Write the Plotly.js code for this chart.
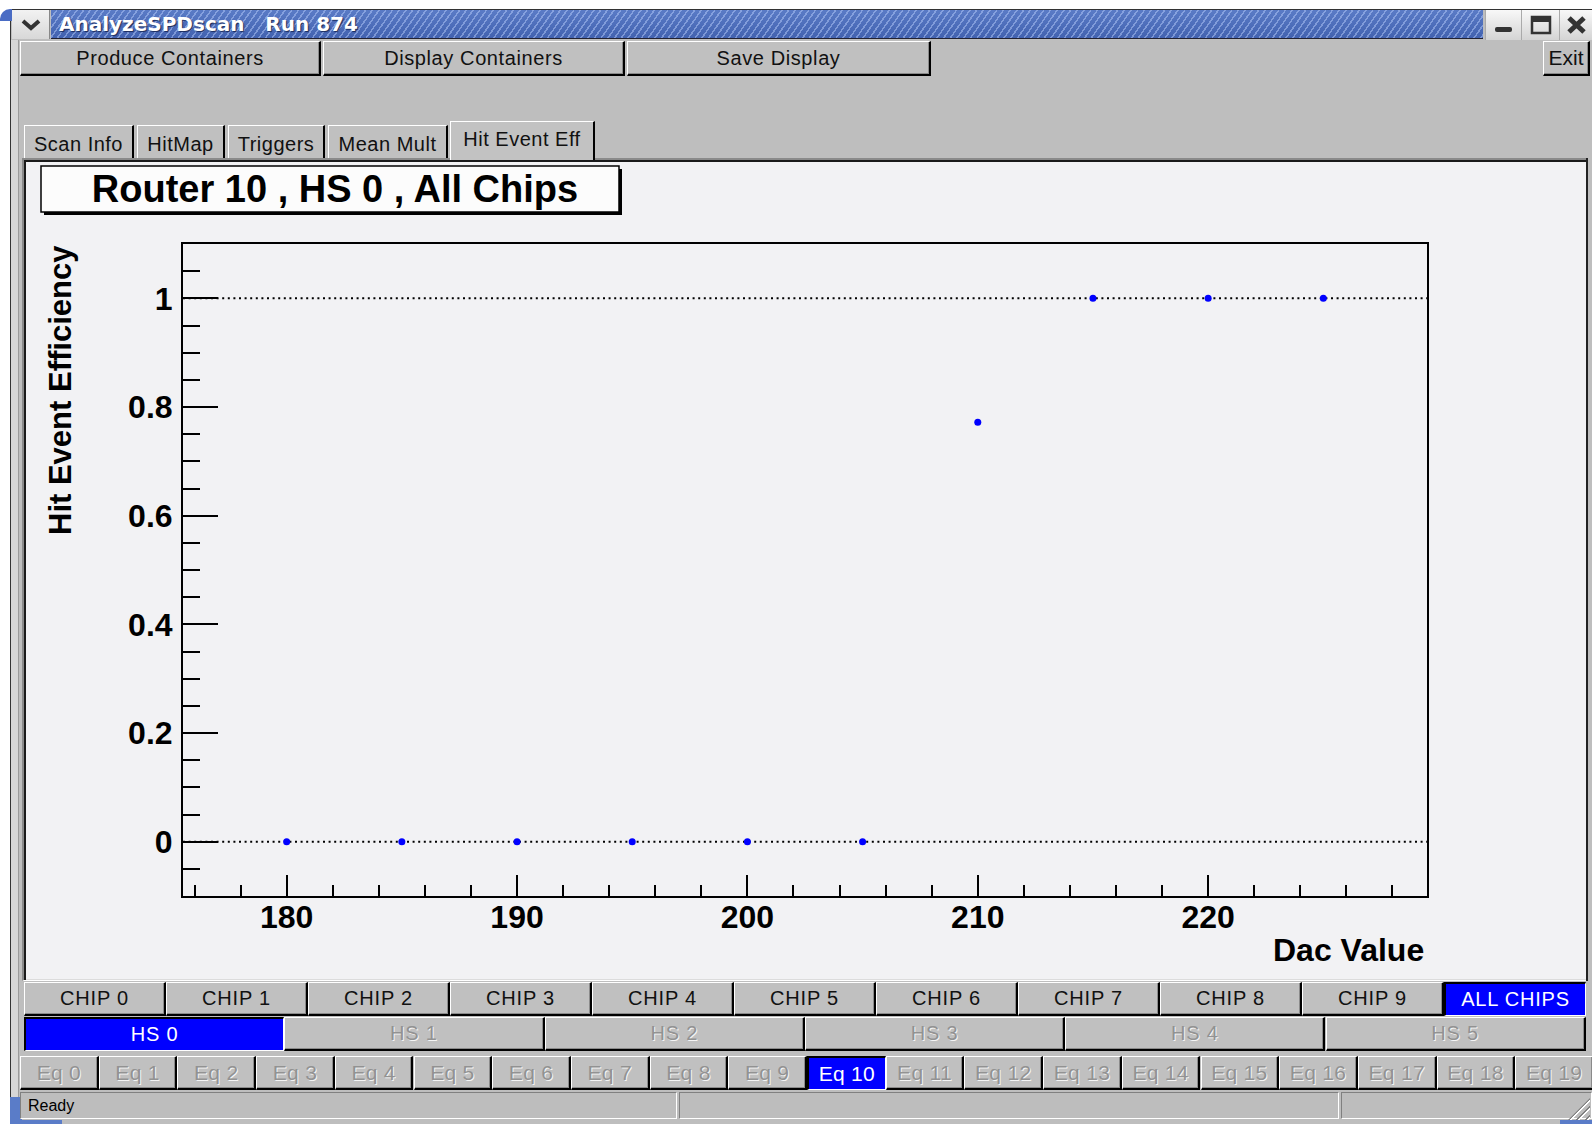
<!DOCTYPE html>
<html><head><meta charset="utf-8">
<script src="https://cdn.plot.ly/plotly-3.0.1.min.js"></script>
<style>
body{margin:0;width:1592px;height:1124px;background:#fff;overflow:hidden;position:relative;font-family:'Liberation Sans',Arial,sans-serif;}
.a{position:absolute;box-sizing:border-box;}
.btn{position:absolute;box-sizing:border-box;background:#c0c0c0;border-top:1px solid #fff;border-left:1px solid #fff;border-right:2px solid #000;border-bottom:2px solid #000;box-shadow:inset -1px -1px 0 #8a8a8a;display:flex;align-items:center;justify-content:center;font-size:20px;letter-spacing:0.8px;color:#111;white-space:pre;}
.dis{color:#929292;text-shadow:1px 1px 0 #f4f4f4;}
.sel{background:#0000ff;color:#fff;border-top:2px solid #000;border-left:2px solid #000;border-right:1px solid #fff;border-bottom:1px solid #fff;box-shadow:none;}
.tab{position:absolute;box-sizing:border-box;background:#c0c0c0;border-top:1px solid #fff;border-left:1px solid #fff;border-right:2px solid #000;display:flex;align-items:center;justify-content:center;font-size:20px;letter-spacing:0.5px;color:#111;}
.sunk{position:absolute;box-sizing:border-box;background:#bdbdbd;border-top:1px solid #808080;border-left:1px solid #808080;border-right:1px solid #fff;border-bottom:1px solid #fff;}
</style></head>
<body>
<div id="gui"></div>
<div id="plot" style="position:absolute;left:0;top:0;width:1592px;height:1124px;z-index:5;"></div>
<script>
// ---------- chart data ----------
const dacValues = [180, 185, 190, 195, 200, 205, 210, 215, 220, 225];
const hitEventEff = [0, 0, 0, 0, 0, 0, 0.772, 1, 1, 1];
const referenceLevels = [0, 1];
const xRange = [175.5, 229.5];
const yRange = [-0.1, 1.1];
const chartTitle = 'Router 10 , HS 0 , All Chips';
const xTitle = 'Dac Value';
const yTitle = 'Hit Event Efficiency';

// ---------- GUI labels ----------
const windowTitle = 'AnalyzeSPDscan   Run 874';
const menuLabels = ['Produce Containers', 'Display Containers', 'Save Display'];
const tabLabels = ['Scan Info', 'HitMap', 'Triggers', 'Mean Mult', 'Hit Event Eff'];
const chipLabels = ['CHIP 0','CHIP 1','CHIP 2','CHIP 3','CHIP 4','CHIP 5','CHIP 6','CHIP 7','CHIP 8','CHIP 9','ALL CHIPS'];
const hsLabels = ['HS 0','HS 1','HS 2','HS 3','HS 4','HS 5'];
const eqLabels = ['Eq 0','Eq 1','Eq 2','Eq 3','Eq 4','Eq 5','Eq 6','Eq 7','Eq 8','Eq 9','Eq 10','Eq 11','Eq 12','Eq 13','Eq 14','Eq 15','Eq 16','Eq 17','Eq 18','Eq 19'];
const statusText = 'Ready';

// ---------- build GUI chrome ----------
const gui = document.getElementById('gui');
function el(cls, x, y, w, h, text, extra) {
  const d = document.createElement('div');
  d.className = cls;
  d.style.left = x + 'px'; d.style.top = y + 'px';
  d.style.width = w + 'px'; d.style.height = h + 'px';
  if (text !== undefined && text !== null) d.textContent = text;
  if (extra) Object.assign(d.style, extra);
  gui.appendChild(d);
  return d;
}
// window body
el('a', 10, 9, 1582, 1115, null, {background:'#bebebe', borderLeft:'1px solid #333', borderTop:'1px solid #333'});
el('a', 11, 40, 8, 1084, null, {background:'#d6d6d6', borderRight:'1px solid #9a9a9a'});
el('a', 0, 9, 12, 12, null, {background:'#4a6cc4', borderTopLeftRadius:'10px'});
el('a', 10, 1097, 12, 27, null, {background:'#5a7cc8'});
el('a', 22, 1120, 40, 4, null, {background:'#5a7cc8'});
el('a', 1560, 1120, 32, 4, null, {background:'#5a7cc8'});
// title bar
const arrow = el('a', 12, 10, 38, 29, null, {background:'linear-gradient(#f2f2f2,#d8d8d8)', borderRight:'1px solid #888'});
arrow.innerHTML = '<svg width="38" height="29"><polyline points="11,11 19,18 27,11" fill="none" stroke="#333" stroke-width="4"/></svg>';
el('a', 51, 10, 1432, 29, null, {
  background:'repeating-linear-gradient(125deg, rgba(255,255,255,0) 0px, rgba(255,255,255,0) 4px, rgba(190,210,255,0.45) 4px, rgba(190,210,255,0.45) 5.5px), linear-gradient(#5a7bc6,#4262b0)',
  borderBottom:'1px solid #223'});
el('a', 59, 10, 600, 29, windowTitle, {color:'#fff', fontFamily:"'DejaVu Sans',sans-serif", fontWeight:'bold', fontSize:'20px', lineHeight:'29px', whiteSpace:'pre', textShadow:'1px 1px 1px #1a2a5a'});
const wmBox = (x, w, svg) => { const d = el('a', x, 10, w, 30, null, {background:'linear-gradient(#f8f8f8,#d4d4d4)', borderLeft:'1px solid #aaa'}); d.innerHTML = svg; };
wmBox(1485, 36, '<svg width="36" height="30"><rect x="9" y="17" width="17" height="5" rx="2" fill="#333"/></svg>');
wmBox(1521, 38, '<svg width="38" height="30"><rect x="10" y="7" width="18" height="16" fill="none" stroke="#333" stroke-width="2.5"/><rect x="10" y="7" width="18" height="5" fill="#333"/></svg>');
wmBox(1559, 33, '<svg width="33" height="30"><path d="M9 8 L24 22 M24 8 L9 22" stroke="#333" stroke-width="5"/></svg>');
// menu buttons
const menuPos = [[20, 301], [323, 302], [627, 304]];
menuLabels.forEach((t, i) => el('btn', menuPos[i][0], 41, menuPos[i][1], 35, t, {letterSpacing:'0.6px'}));
el('btn', 1543, 41, 47, 35, 'Exit', {letterSpacing:'0px', fontSize:'21px'});
// tabs
const tabPos = [[24, 110], [137, 88], [228, 97], [328, 120]];
tabPos.forEach((p, i) => el('tab', p[0], 125, p[1], 34, tabLabels[i], {paddingTop:'4px'}));
el('tab', 450, 121, 145, 39, tabLabels[4], {alignItems:'flex-start', paddingTop:'6px', zIndex:2, background:'#c2c2c2'});
// canvas frame
el('a', 22, 158, 1566, 823, null, {background:'#f2f2f4', borderTop:'2px solid #8a8a8a', borderLeft:'2px solid #8a8a8a', borderRight:'1px solid #fff', borderBottom:'1px solid #fff', boxShadow:'inset 2px 2px 0 #1a1a1a, inset -1px -1px 0 #dcdcdc'});
el('a', 1586, 158, 6, 823, null, {background:'#bebebe', borderLeft:'2px solid #222'});
// chip row
chipLabels.forEach((t, i) => {
  const last = i === chipLabels.length - 1;
  el('btn' + (last ? ' sel' : ''), 24 + i * 142, 982, 142, 34, t);
});
// HS row
hsLabels.forEach((t, i) => el('btn ' + (i === 0 ? 'sel' : 'dis'), 24 + i * 260.3, 1017, 260.3, 34, t));
// Eq row
eqLabels.forEach((t, i) => el('btn ' + (i === 10 ? 'sel' : 'dis'), 20 + i * 78.7, 1056, 78.7, 34, t, {letterSpacing:'0.3px', fontSize:'21px'}));
// status bar
el('sunk', 20, 1092, 657, 27, statusText, {fontSize:'16px', paddingLeft:'7px', lineHeight:'25px', color:'#000'});
el('sunk', 679, 1092, 660, 27);
el('sunk', 1341, 1092, 251, 27);
el('a', 1568, 1098, 22, 22, null, {background:'repeating-linear-gradient(135deg, transparent 0 3px, #808080 3px 4.5px, #fff 4.5px 6px)', clipPath:'polygon(100% 0,100% 100%,0 100%)'});

// ---------- Plotly chart ----------
const W = 1592, H = 1124;
const M = {l: 183, r: 165, t: 244, b: 228};
const PW = W - M.l - M.r, PH = H - M.t - M.b;
const px = x => (x - M.l) / PW;            // page px -> paper x
const py = y => (H - M.b - y) / PH;        // page px -> paper y
const FONT = "'Liberation Sans', Arial, Helvetica, sans-serif";

const traces = [{
  type: 'scatter', mode: 'markers',
  x: dacValues, y: hitEventEff,
  marker: {color: '#0000ff', size: 7},
  cliponaxis: false, hoverinfo: 'x+y', showlegend: false
}];

const shapes = referenceLevels.map(v => ({
  type: 'line', xref: 'paper', yref: 'y', x0: 0, x1: 1, y0: v, y1: v,
  line: {color: '#000', width: 2, dash: '2px,3.6px'}, layer: 'below'
}));
// title box: shadow + white box
shapes.push({type:'rect', xref:'paper', yref:'paper', x0: px(44), x1: px(622), y0: py(215), y1: py(169), fillcolor:'#000', line:{width:0}, layer:'above'});
shapes.push({type:'rect', xref:'paper', yref:'paper', x0: px(41), x1: px(619), y0: py(212), y1: py(166), fillcolor:'#fcfcfc', line:{color:'#000', width:1.5}, layer:'above'});

const layout = {
  width: W, height: H,
  margin: {l: M.l, r: M.r, t: M.t, b: M.b, pad: 0},
  paper_bgcolor: 'rgba(0,0,0,0)', plot_bgcolor: 'rgba(0,0,0,0)',
  showlegend: false,
  title: {text: chartTitle, xref: 'container', yref: 'container', x: 335 / W, y: 1 - 189 / H,
          xanchor: 'center', yanchor: 'middle', font: {family: FONT, size: 38, weight: 'bold', color: '#000'}},
  xaxis: {
    range: xRange, tickmode: 'linear', tick0: 180, dtick: 10,
    ticks: 'inside', ticklen: 21, tickwidth: 2, tickcolor: '#000',
    minor: {dtick: 2, ticks: 'inside', ticklen: 11, tickwidth: 2, tickcolor: '#000', showgrid: false},
    showline: true, linewidth: 2, linecolor: '#000', mirror: true,
    showgrid: false, zeroline: false, ticklabelstandoff: -8,
    tickfont: {family: FONT, size: 32, weight: 'bold', color: '#000'}
  },
  yaxis: {
    range: yRange, tickmode: 'linear', tick0: 0, dtick: 0.2,
    ticks: 'inside', ticklen: 35, tickwidth: 2, tickcolor: '#000',
    minor: {dtick: 0.05, ticks: 'inside', ticklen: 17, tickwidth: 2, tickcolor: '#000', showgrid: false},
    showline: true, linewidth: 2, linecolor: '#000', mirror: true,
    showgrid: false, zeroline: false, ticklabelstandoff: 2,
    tickfont: {family: FONT, size: 32, weight: 'bold', color: '#000'}
  },
  shapes: shapes,
  annotations: [
    {text: xTitle, xref: 'paper', yref: 'paper', x: px(1426), y: py(950), xanchor: 'right', yanchor: 'middle',
     showarrow: false, font: {family: FONT, size: 32, weight: 'bold', color: '#000'}},
    {text: yTitle, xref: 'paper', yref: 'paper', x: px(61), y: py(243), xanchor: 'center', yanchor: 'top',
     textangle: -90, showarrow: false, font: {family: FONT, size: 31, weight: 'bold', color: '#000'}}
  ]
};

Plotly.newPlot('plot', traces, layout, {displayModeBar: false, staticPlot: true});
</script>
</body></html>
